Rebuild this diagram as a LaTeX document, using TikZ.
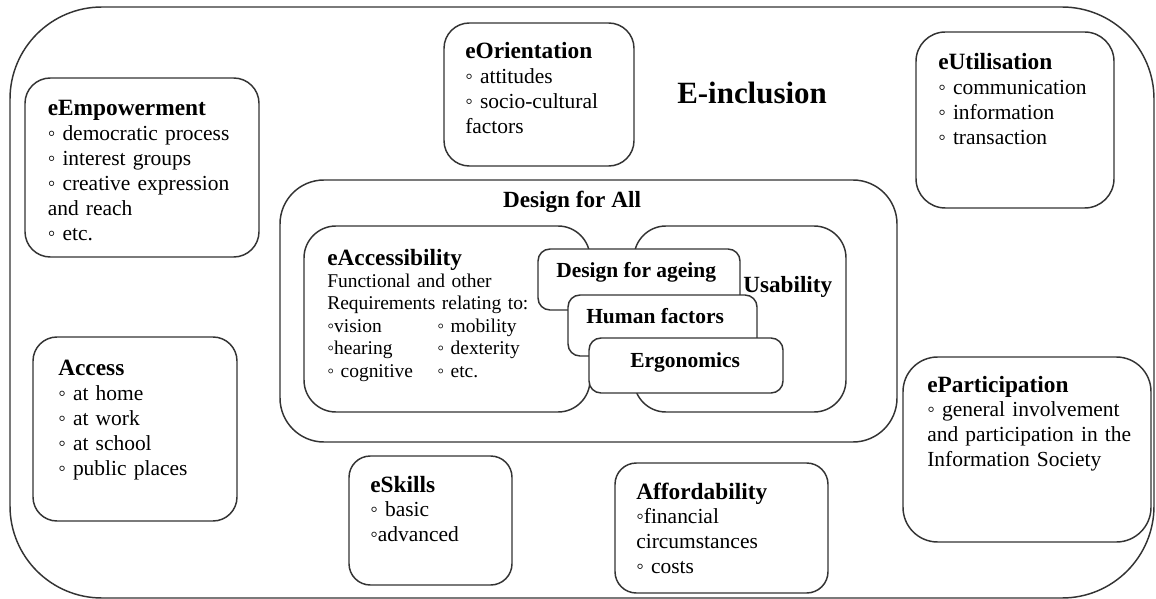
\documentclass[tikz,border=0pt]{standalone}
\usepackage{fontspec}
\setmainfont{Liberation Serif}
\usetikzlibrary{fit}
\newcommand\eihead{\bfseries\fontsize{17.5}{18.7}\selectfont}
\begin{document}
\begin{tikzpicture}[x=0.75pt,y=-0.75pt,
  rbox/.style={draw=black!80, line width=1.1pt, fill=white, rounded corners=#1, inner sep=0pt},
  txt/.style={anchor=base west, inner sep=0pt, text width=190pt, align=left,
    font=\fontsize{16.1}{18.7}\selectfont},
  smalltxt/.style={anchor=base west, inner sep=0pt, text width=190pt, align=left,
    font=\fontsize{14.6}{16.8}\selectfont},
  lbl/.style={anchor=base west, inner sep=0pt, font=\bfseries\fontsize{16.1}{18}\selectfont},
  biglbl/.style={inner sep=0pt, font=\bfseries\fontsize{17.4}{20}\selectfont}]
\useasboundingbox (0,0) rectangle (1156,599);
% outer frame
\node[rbox=69pt, fit={(10,7) (1154,598)}] (outer) {};
\node[anchor=base west, inner sep=0pt, font=\bfseries\fontsize{23.2}{26}\selectfont] (einc) at (677,104) {E-inclusion};
% eEmpowerment
\node[rbox=19pt, fit={(25,78) (259,257)}] (empbox) {};
\node[txt] (emptxt) at (47.5,115.5) {{\eihead eEmpowerment}\\
◦ democratic process\\
◦ interest groups\\
◦ creative expression\\
and reach\\
◦ etc.};
% eOrientation
\node[rbox=19pt, fit={(444,23) (634,166)}] (oribox) {};
\node[txt] (oritxt) at (465,59) {{\eihead eOrientation}\\
◦ attitudes\\
◦ socio-cultural\\
factors};
% eUtilisation
\node[rbox=22pt, fit={(916,32) (1114,208)}] (utibox) {};
\node[txt] (utitxt) at (938,69.5) {{\eihead eUtilisation}\\
◦ communication\\
◦ information\\
◦ transaction};
% Design for All
\node[rbox=33pt, fit={(280,180) (897,442)}] (dfabox) {};
\node[biglbl, anchor=base] (dfatxt) at (572,208) {Design for All};
% eAccessibility
\node[rbox=24pt, fit={(304,226) (590,412)}] (accbox) {};
\node[smalltxt] (acctxt) at (327,265) {{\eihead eAccessibility}\\
Functional and other\\
Requirements relating to:\\
\makebox[82.5pt][l]{◦vision}◦ mobility\\
\makebox[82.5pt][l]{◦hearing}◦ dexterity\\
\makebox[82.5pt][l]{◦ cognitive}◦ etc.};
% Usability
\node[rbox=24pt, fit={(634,226) (846,412)}] (usabox) {};
\node[biglbl, anchor=base west] (usatxt) at (743,292) {Usability};
% Design for ageing
\node[rbox=9pt, fit={(538,249) (740,310)}] (agebox) {};
\node[lbl] (agetxt) at (556,277) {Design for ageing};
% Human factors
\node[rbox=9pt, fit={(568,295) (757,356)}] (humbox) {};
\node[lbl] (humtxt) at (586,323) {Human factors};
% Ergonomics
\node[rbox=9pt, fit={(589,338) (783,393)}] (ergbox) {};
\node[lbl] (ergtxt) at (630,367) {Ergonomics};
% Access
\node[rbox=18pt, fit={(33,337) (237,521)}] (accessbox) {};
\node[txt] (accesstxt) at (58,375.5) {{\eihead Access}\\
◦ at home\\
◦ at work\\
◦ at school\\
◦ public places};
% eSkills
\node[rbox=16pt, fit={(349,456) (512,585)}] (skillbox) {};
\node[txt] (skilltxt) at (370,492) {{\eihead eSkills}\\
◦ basic\\
◦advanced};
% Affordability
\node[rbox=16pt, fit={(615,463) (828,593)}] (affbox) {};
\node[txt] (afftxt) at (636,499) {{\eihead Affordability}\\
◦financial\\
circumstances\\
◦ costs};
% eParticipation
\node[rbox=26pt, fit={(903,357) (1151,542)}] (partbox) {};
\node[txt] (parttxt) at (927,392) {{\eihead eParticipation}\\
◦ general involvement\\
and participation in the\\
Information Society};
\end{tikzpicture}
\end{document}
